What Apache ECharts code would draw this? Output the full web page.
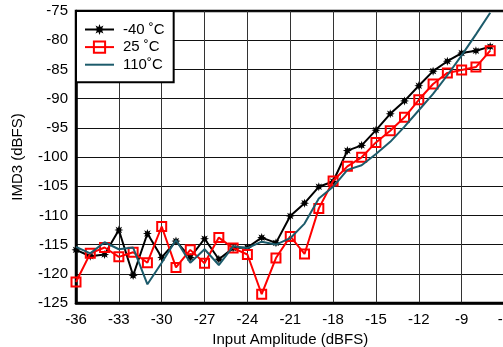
<!DOCTYPE html>
<html>
<head>
<meta charset="utf-8">
<script src="https://cdn.jsdelivr.net/npm/echarts@6/dist/echarts.min.js"></script>
<style>
html,body{margin:0;padding:0;background:#fff;}
#chart{width:503px;height:347px;}
</style>
</head>
<body>
<div id="chart"></div>
<script>
// Data
const xValues = [-36,-35,-34,-33,-32,-31,-30,-29,-28,-27,-26,-25,-24,-23,-22,-21,-20,-19,-18,-17,-16,-15,-14,-13,-12,-11,-10,-9,-8,-7];
const seriesNames = ['-40 \u02DAC', '25 \u02DAC', '110\u02DAC'];
const imdM40 = [-115.9,-117.0,-116.7,-112.5,-120.3,-113.1,-117.2,-114.4,-117.2,-114.0,-117.5,-115.6,-115.5,-113.8,-114.7,-110.1,-107.9,-105.1,-104.2,-98.9,-98.0,-95.4,-92.6,-90.4,-87.8,-85.3,-83.6,-82.2,-81.8,-81.1];
const imd25 = [-121.4,-116.5,-115.5,-117.1,-116.3,-118.1,-111.9,-118.9,-115.9,-118.2,-113.8,-115.6,-116.7,-123.5,-117.3,-113.6,-116.6,-108.8,-104.1,-101.6,-100.05,-97.5,-95.5,-93.2,-90.2,-87.5,-85.6,-85.1,-84.6,-81.8];
const imd110 = [-115.4,-116.5,-114.6,-115.8,-115.5,-121.8,-118.1,-114.2,-118.1,-115.8,-118.5,-115.3,-115.6,-114.5,-115.0,-113.9,-111.4,-107.1,-105.1,-102.2,-101.4,-99.5,-97.4,-94.8,-92.0,-89.2,-86.0,-82.6,-79.0,-75.3];
const xAxisTitle = 'Input Amplitude (dBFS)';
const yAxisTitle = 'IMD3 (dBFS)';

function pairs(ys){ return xValues.map((x,i)=>[x, ys[i]]); }

// asterisk-like star symbol path
function starPath(n, r1, r2){
  let d = '';
  for (let i = 0; i < 2*n; i++){
    const r = i % 2 === 0 ? r1 : r2;
    const a = Math.PI * i / n - Math.PI/2;
    const x = (50 + r*Math.cos(a)).toFixed(2), y = (50 + r*Math.sin(a)).toFixed(2);
    d += (i === 0 ? 'M' : 'L') + x + ' ' + y + ' ';
  }
  return 'path://' + d + 'Z';
}
const starSym = starPath(8, 50, 25);

const font = "'Liberation Sans', Arial, Helvetica, sans-serif";
const chart = echarts.init(document.getElementById('chart'), null, {renderer:'canvas'});
chart.setOption({
  animation: false,
  backgroundColor: '#fff',
  textStyle: {fontFamily: font},
  grid: {left: 76, top: 11, right: -1.5, bottom: 44, outerBoundsMode: 'none', containLabel: false,
         show: true, borderColor: '#000', borderWidth: 2.5, backgroundColor: 'transparent'},
  legend: {
    orient: 'vertical', left: 76, top: 11,
    backgroundColor: '#fff', borderColor: '#000', borderWidth: 2,
    padding: [11, 9, 10, 8],
    itemWidth: 29, itemHeight: 14, itemGap: 2.6,
    textStyle: {fontFamily: font, fontSize: 15, lineHeight: 14, color: '#000', padding: [0,0,0,4]},
    data: [
      {name: seriesNames[0]},
      {name: seriesNames[1]},
      {name: seriesNames[2], itemStyle: {color: 'rgba(0,0,0,0)', borderWidth: 0, opacity: 0}}
    ]
  },
  xAxis: {
    type: 'value', min: -36, max: -6, interval: 3,
    name: xAxisTitle, nameLocation: 'middle', nameGap: 26,
    nameTextStyle: {fontFamily: font, fontSize: 15, color: '#000'},
    axisLine: {show: true, lineStyle: {color: '#000', width: 2.5}},
    axisTick: {show: false},
    axisLabel: {fontFamily: font, fontSize: 15, color: '#000', margin: 9, showMaxLabel: true},
    splitLine: {show: true, lineStyle: {color: '#333', width: 1}}
  },
  yAxis: {
    type: 'value', min: -125, max: -75, interval: 5,
    name: yAxisTitle, nameLocation: 'middle', nameGap: 51, nameRotate: 90,
    nameTextStyle: {fontFamily: font, fontSize: 15, color: '#000'},
    axisLine: {show: true, lineStyle: {color: '#000', width: 2.5}},
    axisTick: {show: false},
    axisLabel: {fontFamily: font, fontSize: 15, color: '#000', margin: 8},
    splitLine: {show: true, lineStyle: {color: '#111', width: 1}}
  },
  series: [
    {
      name: seriesNames[0], type: 'line', data: pairs(imdM40),
      symbol: starSym, symbolSize: 9, showAllSymbol: true,
      itemStyle: {color: '#000'},
      lineStyle: {color: '#000', width: 2},
      z: 3
    },
    {
      name: seriesNames[1], type: 'line', data: pairs(imd25),
      symbol: 'rect', symbolSize: 9, showAllSymbol: true,
      itemStyle: {color: 'rgba(255,255,255,0)', borderColor: '#ff0000', borderWidth: 2},
      lineStyle: {color: '#ff0000', width: 2},
      z: 4
    },
    {
      name: seriesNames[2], type: 'line', data: pairs(imd110),
      symbol: 'none',
      itemStyle: {color: '#1c5b6b'},
      lineStyle: {color: '#1c5b6b', width: 2},
      z: 5
    }
  ]
});
</script>
</body>
</html>
